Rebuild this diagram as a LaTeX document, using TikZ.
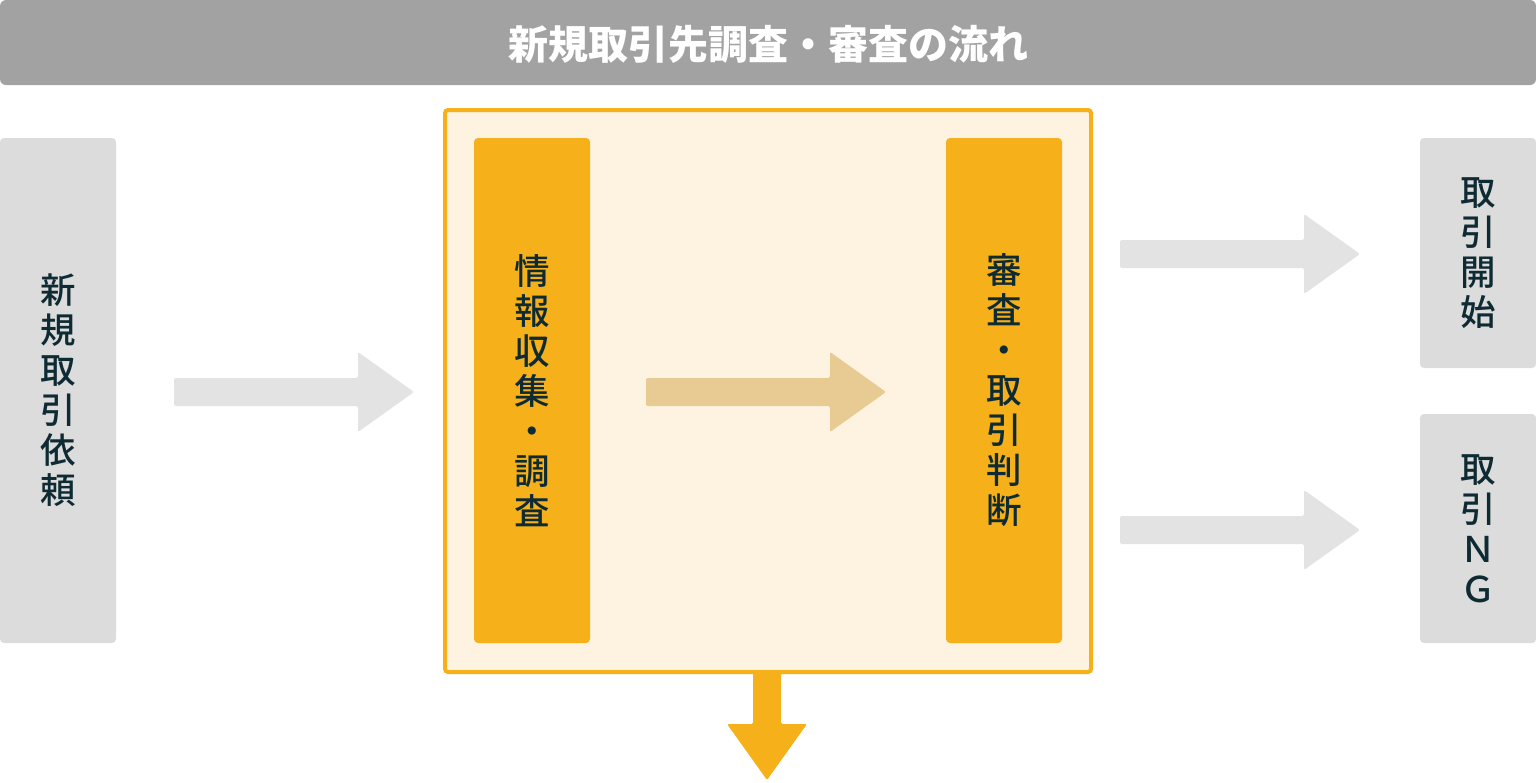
\documentclass[tikz,border=0pt]{standalone}
\usepackage{fontspec}
\newfontfamily\cjk{Noto Sans CJK JP}
\newfontfamily\cjkm{Noto Sans CJK JP}[UprightFont={* Medium}]
\definecolor{titlegray}{HTML}{A2A2A2}
\definecolor{boxgray}{HTML}{DCDCDC}
\definecolor{arrowgray}{HTML}{E3E3E3}
\definecolor{orng}{HTML}{F5B01A}
\definecolor{lightorng}{HTML}{FEF3E0}
\definecolor{midarrow}{HTML}{E8CB92}
\definecolor{darktext}{HTML}{0E2A33}
\tikzset{
  vtext/.style={font=\cjkm\fontsize{35.5}{40}\selectfont, text=darktext, align=center, inner sep=0pt},
  graybox/.style={fill=boxgray, rounded corners=4pt, minimum width=116pt, inner sep=0pt},
  orangebox/.style={fill=orng, rounded corners=4pt, minimum width=116pt, minimum height=505pt, inner sep=0pt},
  grayarrow/.style={fill=arrowgray, rounded corners=2pt},
}
\begin{document}
\begin{tikzpicture}[x=1pt,y=-1pt]
\useasboundingbox (0,0) rectangle (1536,782);
% title
\fill[titlegray, rounded corners=6pt] (0,0) rectangle (1536,85);
\node[font=\cjk\bfseries\fontsize{40}{48}\selectfont, text=white, inner sep=0pt] (title) at (768,44) {新規取引先調査・審査の流れ};
% down arrow (behind frame)
\fill[orng, rounded corners=1.5pt] (753,660) -- (781,660) -- (781,724) -- (807,724) -- (767,780) -- (727,724) -- (753,724) -- cycle;
% frame
\node[draw=orng, line width=4pt, fill=lightorng, rounded corners=3pt, minimum width=646pt, minimum height=562pt, inner sep=0pt] (frame) at (768,391) {};
% boxes
\node[graybox, minimum height=505pt] (req) at (58,390.5) {};
\node[vtext] at (req) {新\\規\\取\\引\\依\\頼};
\node[orangebox] (info) at (532,390.5) {};
\node[vtext] at (info) {情\\報\\収\\集\\・\\調\\査};
\node[orangebox] (judge) at (1004,390.5) {};
\node[vtext] at (judge) {審\\査\\・\\取\\引\\判\\断};
\node[graybox, minimum height=230pt] (start) at (1478,253) {};
\node[vtext] at (start) {取\\引\\開\\始};
\node[graybox, minimum height=229pt] (ng) at (1478,528.5) {};
\node[vtext] at (ng) {取\\引\\Ｎ\\Ｇ};
% arrows
\fill[grayarrow] (174,378) -- (358,378) -- (358,352) -- (414,392) -- (358,432) -- (358,406) -- (174,406) -- cycle;
\fill[midarrow, rounded corners=2pt] (646,378) -- (830,378) -- (830,352) -- (886,392) -- (830,432) -- (830,406) -- (646,406) -- cycle;
\fill[grayarrow] (1120,240) -- (1304,240) -- (1304,214) -- (1360,254) -- (1304,294) -- (1304,268) -- (1120,268) -- cycle;
\fill[grayarrow] (1120,516) -- (1304,516) -- (1304,490) -- (1360,530) -- (1304,570) -- (1304,544) -- (1120,544) -- cycle;
\end{tikzpicture}
\end{document}
